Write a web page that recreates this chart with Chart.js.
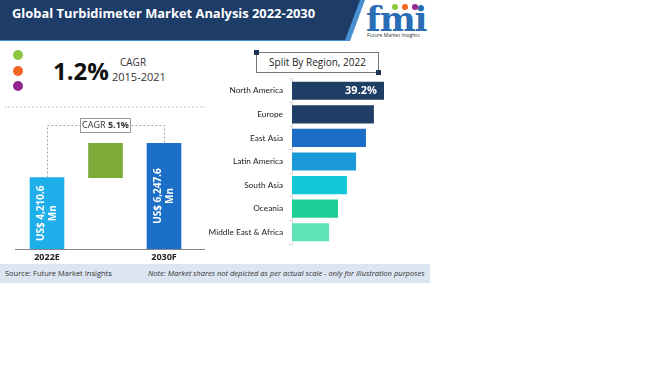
<!DOCTYPE html>
<html>
<head>
<meta charset="utf-8">
<script src="https://cdn.jsdelivr.net/npm/chart.js@4.4.1/dist/chart.umd.min.js"></script>
<style>
  body { margin: 0; background: #fff; font-family: "Open Sans", sans-serif; }
  #page { position: relative; width: 650px; height: 366px; overflow: hidden; }
  .abs { position: absolute; }
  #header { left: 0; top: 0; width: 365px; height: 41px; background: #4a8fd0;
            clip-path: polygon(0 0, 365px 0, 350px 41px, 0 41px); }
  #header2 { left: 0; top: 0; width: 360px; height: 40px; background: #1d3c68;
             clip-path: polygon(0 0, 360px 0, 345px 40px, 0 40px); }
  #title { left: 12px; top: 4px; color: #fff; font-weight: 700; font-size: 12.9px; white-space: nowrap; }
  .dot { width: 10px; height: 10px; border-radius: 50%; left: 13px; }
  #big { left: 53px; top: 54px; font-size: 24px; font-weight: 700; color: #111; }
  #cagrLbl { left: 120px; top: 55px; font-size: 10px; color: #333; }
  #cagrYears { left: 112px; top: 69px; font-size: 11px; color: #333; }
  #sep { left: 5px; top: 106px; width: 200px; border-top: 2px dotted #e4e4e4; }
  #baseline { left: 15px; top: 249px; width: 190px; border-top: 1px solid #888; }
  #splitBox { left: 256px; top: 52px; width: 121px; height: 19px; border: 1px solid #777;
              font-size: 10px; color: #222; text-align: center; line-height: 19px; }
  .corner { width: 5px; height: 5px; background: #1d3552; }
  #footer { left: 0; top: 264px; width: 430px; height: 19px; background: #dce6f2; }
  #src { left: 5px; top: 268px; font-size: 7.5px; color: #333; }
  #note { left: 148px; top: 268px; font-size: 7.55px; color: #333; font-style: italic; }
  #logo { left: 366px; top: -1px; font-family: "DejaVu Serif", serif; font-weight: 700; font-size: 34px;
          color: #2a6db5; letter-spacing: -1px; }
  #logoTxt { left: 367px; top: 32px; font-size: 5px; color: #333; white-space: nowrap; }
  .ldot { width: 6px; height: 6px; border-radius: 50%; top: 4px; }
</style>
</head>
<body>
<div id="page">
  <div id="header" class="abs"></div>
  <div id="header2" class="abs"></div>
  <div id="title" class="abs">Global Turbidimeter Market Analysis 2022-2030</div>
  <div id="logo" class="abs">fmi</div>
  <div class="abs ldot" style="left:392px;background:#8dc63f"></div>
  <div class="abs ldot" style="left:402px;background:#f26522"></div>
  <div class="abs ldot" style="left:412px;background:#92278f"></div>
  <div id="logoTxt" class="abs">Future Market Insights</div>

  <div class="abs dot" style="top:50px;background:#8dc63f"></div>
  <div class="abs dot" style="top:66px;background:#f26522"></div>
  <div class="abs dot" style="top:81px;background:#92278f"></div>
  <div id="big" class="abs"></div>
  <div id="cagrLbl" class="abs">CAGR</div>
  <div id="cagrYears" class="abs"></div>
  <div id="sep" class="abs"></div>

  <canvas id="waterfall" class="abs" width="210" height="170" style="left:0;top:100px"></canvas>
  <div id="baseline" class="abs"></div>

  <div id="splitBox" class="abs">Split By Region, 2022</div>
  <div class="abs corner" style="left:254px;top:50px"></div>
  <div class="abs corner" style="left:376px;top:70px"></div>
  <canvas id="regions" class="abs" width="230" height="187" style="left:200px;top:68px"></canvas>

  <div id="footer" class="abs"></div>
  <div id="src" class="abs">Source: Future Market Insights</div>
  <div id="note" class="abs">Note: Market shares not depicted as per actual scale - only for illustration purposes</div>
</div>

<script>
// values
const historicCagr = '1.2%'
const historicYears = '2015-2021'
const years = ['2022E', '', '2030F']
const marketValues = [4210.6, 6247.6]   // US$ Mn
const forecastCagr = '5.1%'

const regions = ['North America', 'Europe', 'East Asia', 'Latin America', 'South Asia', 'Oceania', 'Middle East & Africa']
const regionShares = [39.2, 34.9, 31.5, 27.3, 23.4, 19.6, 15.8]   // only North America is printed
const regionColors = ['#1e3e66', '#1e3e66', '#1b6cc6', '#1a9ad9', '#14c8da', '#1dcf97', '#5fe2b6']

document.getElementById('big').textContent = historicCagr
document.getElementById('cagrYears').textContent = historicYears

const money = v => 'US$ ' + v.toLocaleString('en-US', {minimumFractionDigits: 1})

// waterfall: start, growth, end
const steps = [[0, marketValues[0]], [marketValues[0], marketValues[1]], [0, marketValues[1]]]

const waterfallLabels = {
    id: 'waterfallLabels',
    afterDatasetsDraw(chart) {
        const ctx = chart.ctx
        const bars = chart.getDatasetMeta(0).data
        ctx.save()
        // values written sideways in the end bars
        ctx.fillStyle = '#fff'
        ctx.font = 'bold 10px "Open Sans"'
        ctx.textAlign = 'center'
        ctx.textBaseline = 'middle'
        for (const i of [0, 2]) {
            const b = bars[i]
            const v = i == 0 ? marketValues[0] : marketValues[1]
            ctx.save()
            ctx.translate(b.x, (b.y + b.base) / 2)
            ctx.rotate(-Math.PI / 2)
            ctx.fillText(money(v), 0, -5.5)
            ctx.fillText('Mn', 0, 6)
            ctx.restore()
        }
        // dashed connector
        const top = bars[2].y - 18
        ctx.strokeStyle = '#aaa'
        ctx.lineWidth = 1
        ctx.setLineDash([2, 2])
        ctx.beginPath()
        ctx.moveTo(bars[0].x + 0.5, bars[0].y)
        ctx.lineTo(bars[0].x + 0.5, top + 0.5)
        ctx.lineTo(bars[2].x + 0.5, top + 0.5)
        ctx.lineTo(bars[2].x + 0.5, bars[2].y)
        ctx.stroke()
        ctx.setLineDash([])
        // CAGR box
        const cx = bars[1].x
        ctx.fillStyle = '#fff'
        ctx.fillRect(cx - 25.5, top - 7, 51, 15)
        ctx.strokeStyle = '#999'
        ctx.strokeRect(cx - 25.5 + 0.5, top - 7 + 0.5, 50, 14)
        ctx.fillStyle = '#333'
        ctx.textAlign = 'left'
        const a = 'CAGR '
        ctx.font = '9px "Open Sans"'
        const wa = ctx.measureText(a).width
        ctx.font = 'bold 9px "Open Sans"'
        const wb = ctx.measureText(forecastCagr).width
        const sx = cx - (wa + wb) / 2
        ctx.font = '9px "Open Sans"'
        ctx.fillText(a, sx, top + 0.5)
        ctx.font = 'bold 9px "Open Sans"'
        ctx.fillText(forecastCagr, sx + wa, top + 0.5)
        ctx.restore()
    }
}

new Chart(document.getElementById('waterfall'), {
    type: 'bar',
    data: {
        labels: years,
        datasets: [{
            data: steps,
            backgroundColor: ['#1eaeea', '#7cab3a', '#1b6fc6'],
            borderWidth: 0,
            barThickness: 34
        }]
    },
    options: {
        responsive: false,
        animation: false,
        layout: {padding: {left: 17.75, right: 16.75, top: 43, bottom: 1}},
        plugins: {legend: {display: false}, tooltip: {enabled: false}},
        scales: {
            x: {
                grid: {display: false, drawTicks: false},
                border: {display: false},
                ticks: {color: '#222', font: {family: 'Open Sans', size: 9, weight: 'bold'}, padding: 3},
                afterFit: s => { s.height = 20 }
            },
            y: {display: false, min: 0, max: marketValues[1]}
        }
    },
    plugins: [waterfallLabels]
})

const shareLabel = {
    id: 'shareLabel',
    afterDatasetsDraw(chart) {
        const ctx = chart.ctx
        const b = chart.getDatasetMeta(0).data[0]
        ctx.save()
        ctx.fillStyle = '#fff'
        ctx.font = 'bold 11px "Open Sans"'
        ctx.textAlign = 'right'
        ctx.textBaseline = 'middle'
        ctx.fillText(regionShares[0].toFixed(1) + '%', b.x - 7, b.y)
        ctx.restore()
    }
}

new Chart(document.getElementById('regions'), {
    type: 'bar',
    data: {
        labels: regions,
        datasets: [{
            data: regionShares,
            backgroundColor: regionColors,
            borderWidth: 0,
            barPercentage: 0.77,
            categoryPercentage: 1
        }]
    },
    options: {
        indexAxis: 'y',
        responsive: false,
        animation: false,
        layout: {padding: {left: 0, right: 46, top: 4.33, bottom: 4.33}},
        plugins: {legend: {display: false}, tooltip: {enabled: false}},
        scales: {
            x: {display: false, min: 0, max: regionShares[0]},
            y: {
                grid: {drawOnChartArea: false, tickLength: 3, color: '#ddd'},
                border: {color: '#ddd'},
                ticks: {color: '#222', font: {family: 'Lato', size: 8.3}, padding: 6},
                afterFit: s => { s.width = 92 }
            }
        }
    },
    plugins: [shareLabel]
})
</script>
</body>
</html>
